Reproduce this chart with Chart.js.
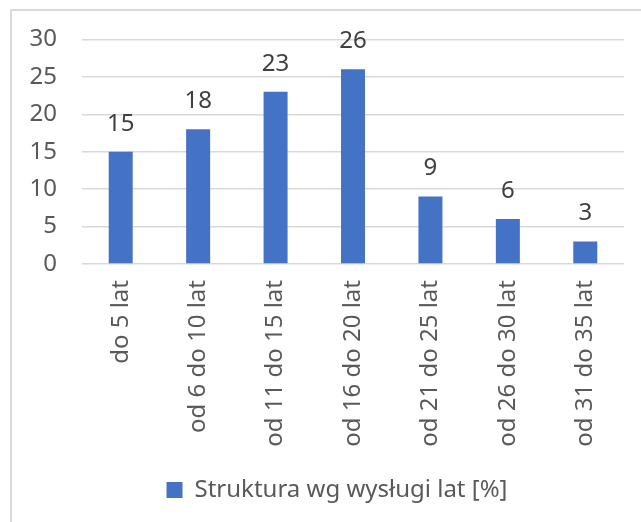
<!DOCTYPE html>
<html>
<head>
<meta charset="utf-8">
<script src="https://cdn.jsdelivr.net/npm/chart.js@4/dist/chart.umd.min.js"></script>
<style>
  body { margin: 0; background: #fff; }
  #wrap { position: relative; width: 641px; height: 522px; overflow: hidden; }
  #frame { position: absolute; left: 10px; top: 9px; width: 700px; height: 600px;
           border-left: 2px solid #d9d9d9; border-top: 2px solid #d9d9d9; }
  canvas { position: absolute; left: 0; top: 0; }
</style>
</head>
<body>
<div id="wrap">
  <div id="frame"></div>
  <canvas id="chart" width="641" height="522"></canvas>
</div>
<script>
const categories = ['do 5 lat', 'od 6 do 10 lat', 'od 11 do 15 lat', 'od 16 do 20 lat',
  'od 21 do 25 lat', 'od 26 do 30 lat', 'od 31 do 35 lat'];
const values = [15, 18, 23, 26, 9, 6, 3];
const seriesName = 'Struktura wg wysługi lat [%]';
const yTicks = [0, 5, 10, 15, 20, 25, 30];

const FONT = '"Noto Sans", sans-serif';
const SIZE = 24;

// simple value labels above bars
const valueLabels = {
  id: 'valueLabels',
  afterDatasetsDraw(chart) {
    const ctx = chart.ctx;
    const meta = chart.getDatasetMeta(0);
    ctx.save();
    ctx.font = SIZE + 'px ' + FONT;
    ctx.fillStyle = '#404040';
    ctx.textAlign = 'center';
    ctx.textBaseline = 'middle';
    meta.data.forEach((bar, i) => {
      ctx.fillText(String(values[i]), bar.x, bar.y - 28);
    });
    ctx.restore();
  }
};

// legend in the original sits a bit right of centre
const legendShift = {
  id: 'legendShift',
  afterLayout(chart) {
    chart.legend.left += 19;
    chart.legend.right += 19;
  }
};

new Chart(document.getElementById('chart'), {
  type: 'bar',
  data: {
    labels: categories,
    datasets: [{
      label: seriesName,
      data: values,
      backgroundColor: '#4472C4',
      barPercentage: 0.31,
      categoryPercentage: 1
    }]
  },
  options: {
    responsive: false,
    animation: false,
    layout: { padding: { left: 12, right: 17, top: 31, bottom: 10 } },
    plugins: {
      legend: {
        position: 'bottom',
        labels: {
          font: { family: FONT, size: SIZE },
          color: '#595959',
          boxWidth: 16,
          boxHeight: 16,
          padding: 6
        }
      },
      tooltip: { enabled: false }
    },
    scales: {
      y: {
        min: 0,
        max: 30,
        afterBuildTicks(axis) { axis.ticks = yTicks.map(v => ({ value: v })); },
        afterFit(axis) { axis.width = 70; },
        grid: { color: '#d9d9d9', lineWidth: 1.5, drawTicks: false },
        border: { display: false },
        ticks: { font: { family: FONT, size: SIZE }, color: '#595959', padding: 25 }
      },
      x: {
        afterFit(axis) { axis.height = 208; },
        grid: { display: false },
        border: { display: false },
        ticks: {
          font: { family: FONT, size: SIZE },
          color: '#595959',
          minRotation: 90,
          maxRotation: 90,
          padding: 8
        }
      }
    }
  },
  plugins: [valueLabels, legendShift]
});
</script>
</body>
</html>
